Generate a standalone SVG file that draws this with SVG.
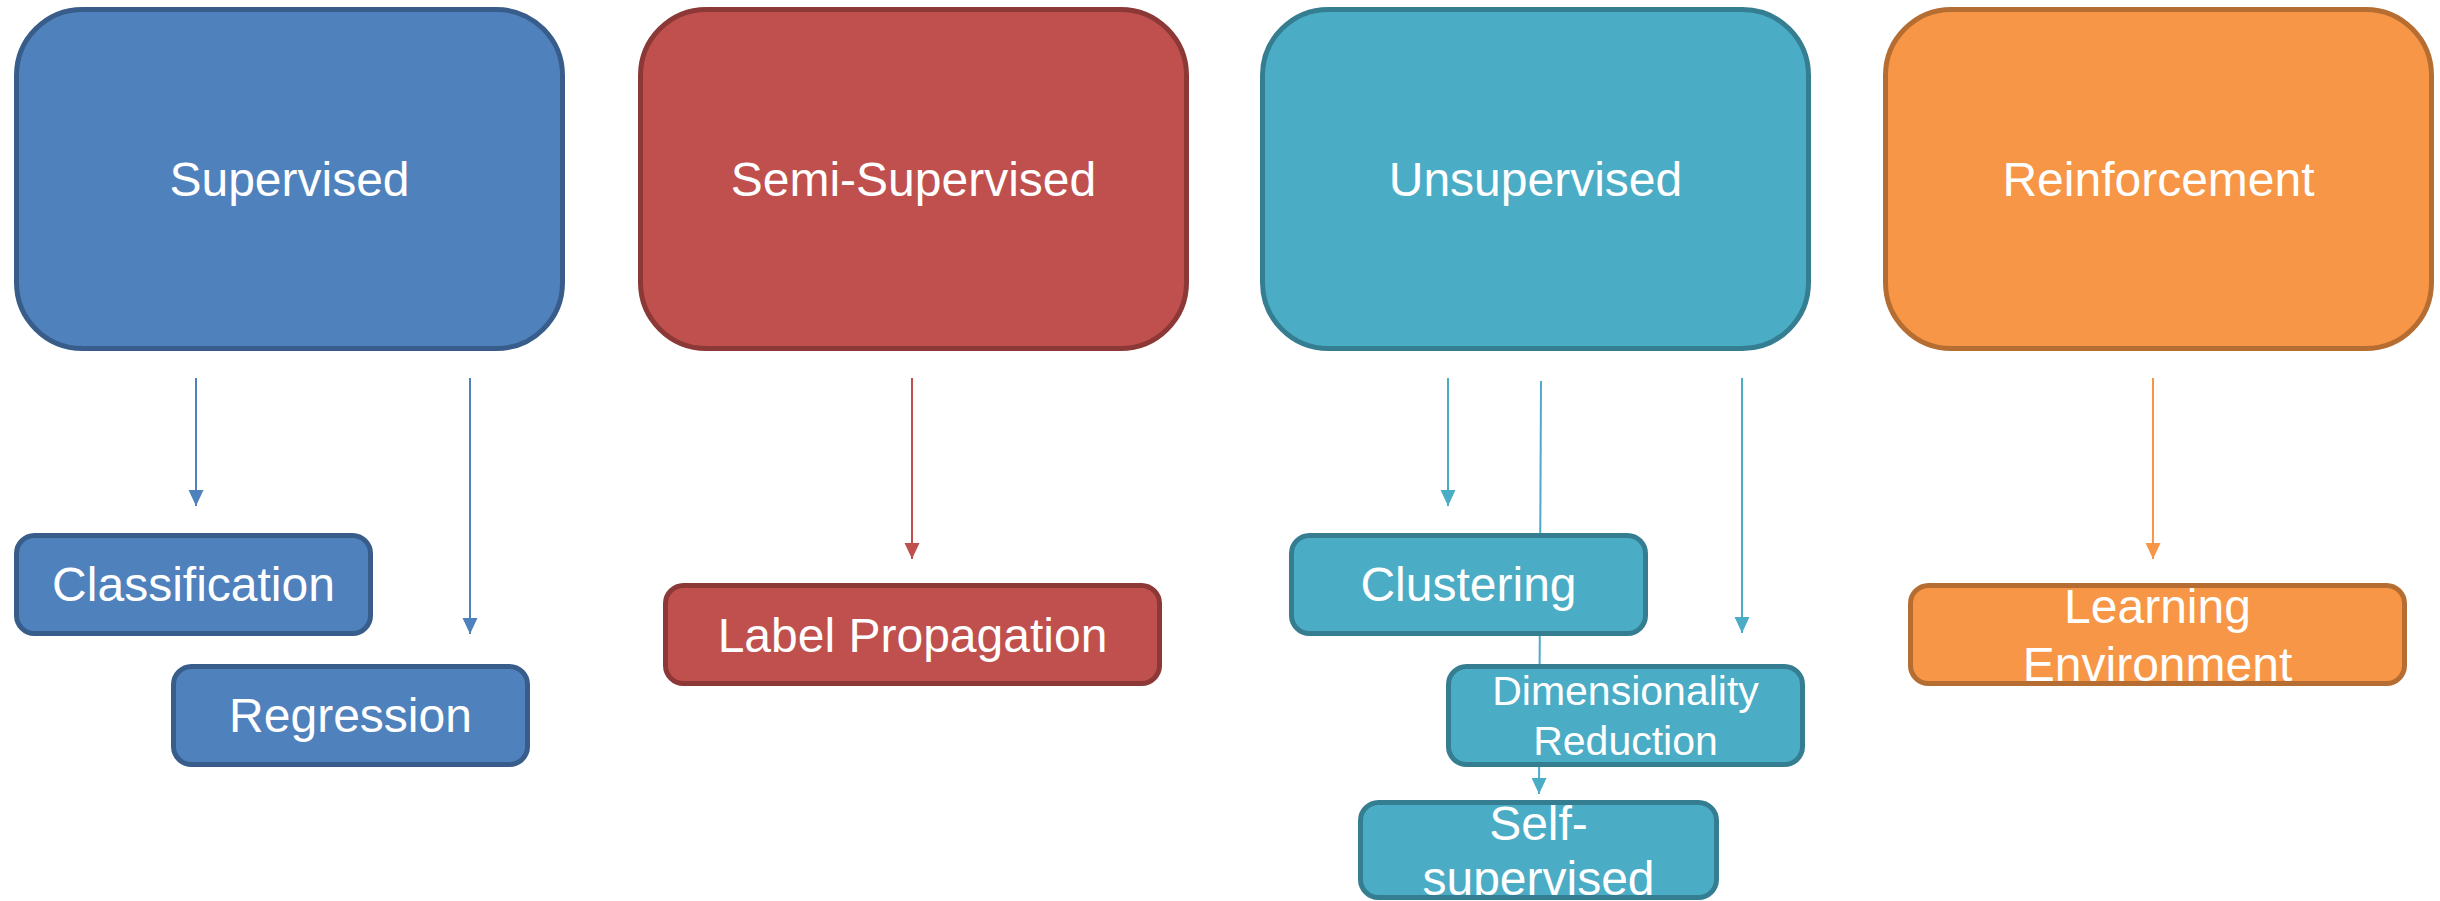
<svg xmlns="http://www.w3.org/2000/svg" width="2440" height="901" viewBox="0 0 2440 901">
  <style>
    text { font-family: "Liberation Sans", Arial, sans-serif; fill: #FFFFFF; text-anchor: middle; }
    .t48 { font-size: 48px; }
    .t41 { font-size: 41px; }
    .box { stroke-width: 5; }
    .blue { fill: #4F81BD; stroke: #385D8A; }
    .red { fill: #C0504D; stroke: #8C3836; }
    .teal { fill: #4BACC6; stroke: #357D91; }
    .orange { fill: #F79646; stroke: #B66D31; }
    .edge { fill: none; stroke-width: 2; }
    .outline { fill: none; }
    .fillonly { stroke: none; }
  </style>
  <defs>
    <marker id="ah-blue" markerUnits="userSpaceOnUse" markerWidth="16" markerHeight="16" refX="16" refY="7.5" orient="auto" viewBox="0 0 16 15">
      <path d="M0,0 L16,7.5 L0,15 z" fill="#4F81BD"/>
    </marker>
    <marker id="ah-red" markerUnits="userSpaceOnUse" markerWidth="16" markerHeight="16" refX="16" refY="7.5" orient="auto" viewBox="0 0 16 15">
      <path d="M0,0 L16,7.5 L0,15 z" fill="#C0504D"/>
    </marker>
    <marker id="ah-teal" markerUnits="userSpaceOnUse" markerWidth="16" markerHeight="16" refX="16" refY="7.5" orient="auto" viewBox="0 0 16 15">
      <path d="M0,0 L16,7.5 L0,15 z" fill="#4BACC6"/>
    </marker>
    <marker id="ah-orange" markerUnits="userSpaceOnUse" markerWidth="16" markerHeight="16" refX="16" refY="7.5" orient="auto" viewBox="0 0 16 15">
      <path d="M0,0 L16,7.5 L0,15 z" fill="#F79646"/>
    </marker>
  </defs>

  <rect width="2440" height="901" fill="#FFFFFF"/>

  <!-- connectors (drawn first so the boxes sit on top) -->
  <g id="connectors">
    <line class="edge" x1="196" y1="378" x2="196" y2="506" stroke="#4F81BD" marker-end="url(#ah-blue)"/>
    <line class="edge" x1="470" y1="378" x2="470" y2="634" stroke="#4F81BD" marker-end="url(#ah-blue)"/>
    <line class="edge" x1="912" y1="378" x2="912" y2="559" stroke="#C0504D" marker-end="url(#ah-red)"/>
    <line class="edge" x1="1448" y1="378" x2="1448" y2="506" stroke="#4BACC6" marker-end="url(#ah-teal)"/>
    <line class="edge" x1="1541" y1="381" x2="1539" y2="794" stroke="#4BACC6" marker-end="url(#ah-teal)"/>
    <line class="edge" x1="1742" y1="378" x2="1742" y2="633" stroke="#4BACC6" marker-end="url(#ah-teal)"/>
    <line class="edge" x1="2153" y1="378" x2="2153" y2="559" stroke="#F79646" marker-end="url(#ah-orange)"/>
  </g>

  <!-- top-level categories -->
  <g id="supervised">
    <rect class="box blue" x="16.5" y="9.5" width="546" height="339" rx="66" ry="66"/>
    <text class="t48" x="289.5" y="196">Supervised</text>
  </g>
  <g id="semi-supervised">
    <rect class="box red" x="640.5" y="9.5" width="546" height="339" rx="66" ry="66"/>
    <text class="t48" x="913.5" y="196">Semi-Supervised</text>
  </g>
  <g id="unsupervised">
    <rect class="box teal" x="1262.5" y="9.5" width="546" height="339" rx="66" ry="66"/>
    <text class="t48" x="1535.5" y="196">Unsupervised</text>
  </g>
  <g id="reinforcement">
    <rect class="box orange" x="1885.5" y="9.5" width="546" height="339" rx="66" ry="66"/>
    <text class="t48" x="2158.5" y="196">Reinforcement</text>
  </g>

  <!-- sub-categories -->
  <g id="classification">
    <rect class="box blue" x="16.5" y="535.5" width="354" height="98" rx="18" ry="18"/>
    <text class="t48" x="193.5" y="601">Classification</text>
  </g>
  <g id="regression">
    <rect class="box blue" x="173.5" y="666.5" width="354" height="98" rx="18" ry="18"/>
    <text class="t48" x="350.5" y="732">Regression</text>
  </g>
  <g id="label-propagation">
    <rect class="box red" x="665.5" y="585.5" width="494" height="98" rx="18" ry="18"/>
    <text class="t48" x="912.5" y="652">Label Propagation</text>
  </g>
  <g id="clustering">
    <rect class="box teal" x="1291.5" y="535.5" width="354" height="98" rx="18" ry="18"/>
    <text class="t48" x="1468.5" y="601">Clustering</text>
  </g>
  <g id="dimensionality-reduction">
    <rect class="box teal" x="1448.5" y="666.5" width="354" height="98" rx="18" ry="18"/>
    <text class="t41" x="1625.5" y="705">Dimensionality</text>
    <text class="t41" x="1625.5" y="755">Reduction</text>
  </g>
  <!-- the two-line labels overrun their boxes; the outline is drawn over the text -->
  <g id="self-supervised">
    <rect class="teal fillonly" x="1360.5" y="802.5" width="356" height="95" rx="18" ry="18"/>
    <text class="t48" x="1538.5" y="840">Self-</text>
    <text class="t48" x="1538.5" y="895">supervised</text>
    <rect class="box teal outline" x="1360.5" y="802.5" width="356" height="95" rx="18" ry="18"/>
  </g>
  <g id="learning-environment">
    <rect class="orange fillonly" x="1910.5" y="585.5" width="494" height="98" rx="18" ry="18"/>
    <text class="t48" x="2157.5" y="623">Learning</text>
    <text class="t48" x="2157.5" y="681">Environment</text>
    <rect class="box orange outline" x="1910.5" y="585.5" width="494" height="98" rx="18" ry="18"/>
  </g>
</svg>
